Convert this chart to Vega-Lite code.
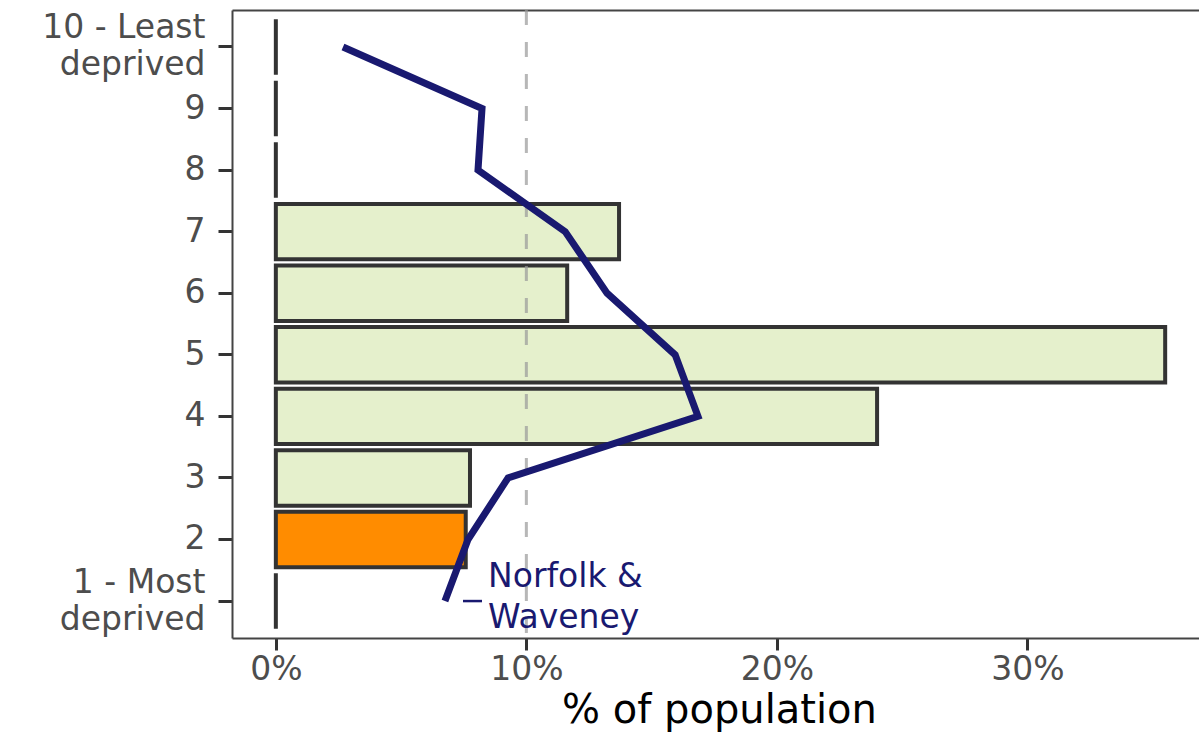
{
  "$schema": "https://vega.github.io/schema/vega-lite/v6.json",
  "width": 970,
  "height": 628,
  "autosize": {"type": "none"},
  "padding": {"left": 232, "top": 10, "right": 0, "bottom": 95},
  "background": "white",
  "config": {
    "font": "DejaVu Sans",
    "view": {"stroke": null}
  },
  "resolve": {"axis": {"x": "independent"}},
  "datasets": {
    "bars": [
      {"decile": 10, "pct": 0, "group": "other"},
      {"decile": 9, "pct": 0, "group": "other"},
      {"decile": 8, "pct": 0, "group": "other"},
      {"decile": 7, "pct": 13.7, "group": "other"},
      {"decile": 6, "pct": 11.63, "group": "other"},
      {"decile": 5, "pct": 35.5, "group": "other"},
      {"decile": 4, "pct": 24.0, "group": "other"},
      {"decile": 3, "pct": 7.75, "group": "other"},
      {"decile": 2, "pct": 7.58, "group": "selected"},
      {"decile": 1, "pct": 0, "group": "other"}
    ],
    "line": [
      {"decile": 10, "pct": 2.68},
      {"decile": 9, "pct": 8.23},
      {"decile": 8, "pct": 8.07},
      {"decile": 7, "pct": 11.55},
      {"decile": 6, "pct": 13.22},
      {"decile": 5, "pct": 15.94},
      {"decile": 4, "pct": 16.85},
      {"decile": 3, "pct": 9.27},
      {"decile": 2, "pct": 7.67},
      {"decile": 1, "pct": 6.75}
    ],
    "ref": [{"pct": 10}],
    "label": [{"decile": 1, "pct": 8.47, "pct2": 7.47, "pct3": 8.23, "label": "Norfolk &\nWaveney"}]
  },
  "layer": [
    {
      "data": {"name": "bars"},
      "mark": {"type": "bar", "stroke": "#333333", "strokeWidth": 4},
      "encoding": {
        "y": {
          "field": "decile",
          "type": "ordinal",
          "sort": "descending",
          "scale": {"type": "band", "paddingInner": 0.1, "paddingOuter": 0.15},
          "axis": {
            "title": null,
            "domain": true,
            "domainColor": "#444444",
            "domainWidth": 2,
            "labelFontSize": 33,
            "labelColor": "#4d4d4d",
            "labelLineHeight": 37,
            "labelPadding": 13,
            "labelOffset": {"condition": {"test": "datum.value == 10 || datum.value == 1", "value": -18.5}, "value": 0},
            "tickSize": 14,
            "tickWidth": 3,
            "tickColor": "#333333",
            "labelExpr": "datum.value == 10 ? ['10 - Least', 'deprived'] : datum.value == 1 ? ['1 - Most', 'deprived'] : datum.label"
          }
        },
        "x": {
          "field": "pct",
          "type": "quantitative",
          "stack": null,
          "scale": {"domain": [-1.75, 36.97], "nice": false, "zero": false},
          "axis": {
            "title": "% of population",
            "titleFontSize": 40,
            "titleFontWeight": "normal",
            "titleColor": "#000000",
            "titleBaseline": "alphabetic",
            "titleY": 84,
            "titleX": 487,
            "values": [0, 10, 20, 30],
            "labelExpr": "datum.value + '%'",
            "labelFontSize": 33,
            "labelColor": "#4d4d4d",
            "labelBaseline": "alphabetic",
            "labelPadding": 29,
            "tickSize": 12,
            "tickWidth": 3,
            "tickColor": "#333333",
            "domain": true,
            "domainColor": "#444444",
            "domainWidth": 2,
            "grid": false
          }
        },
        "fill": {
          "field": "group",
          "type": "nominal",
          "scale": {"domain": ["other", "selected"], "range": ["#e5f0cc", "#ff8c00"]},
          "legend": null
        }
      }
    },
    {
      "data": {"name": "ref"},
      "mark": {"type": "rule", "color": "#999999", "opacity": 0.7, "strokeWidth": 3, "strokeDash": [15, 17]},
      "encoding": {
        "x": {
          "field": "pct",
          "type": "quantitative",
          "axis": {"orient": "top", "title": null, "labels": false, "ticks": false, "grid": false, "domain": true, "domainColor": "#444444", "domainWidth": 2}
        }
      }
    },
    {
      "data": {"name": "line"},
      "mark": {"type": "line", "color": "#191970", "strokeWidth": 7},
      "encoding": {
        "y": {"field": "decile", "type": "ordinal", "sort": "descending"},
        "x": {"field": "pct", "type": "quantitative", "axis": null},
        "order": {"field": "decile", "type": "quantitative"}
      }
    },
    {
      "data": {"name": "label"},
      "mark": {"type": "rule", "color": "#191970", "strokeWidth": 2.5},
      "encoding": {
        "y": {"field": "decile", "type": "ordinal", "sort": "descending"},
        "x": {"field": "pct2", "type": "quantitative", "axis": null},
        "x2": {"field": "pct3"}
      }
    },
    {
      "data": {"name": "label"},
      "mark": {"type": "text", "color": "#191970", "fontSize": 33, "align": "left", "baseline": "middle", "lineBreak": "\n", "lineHeight": 41, "dy": -24},
      "encoding": {
        "y": {"field": "decile", "type": "ordinal", "sort": "descending"},
        "x": {"field": "pct", "type": "quantitative", "axis": null},
        "text": {"field": "label", "type": "nominal"}
      }
    }
  ]
}
